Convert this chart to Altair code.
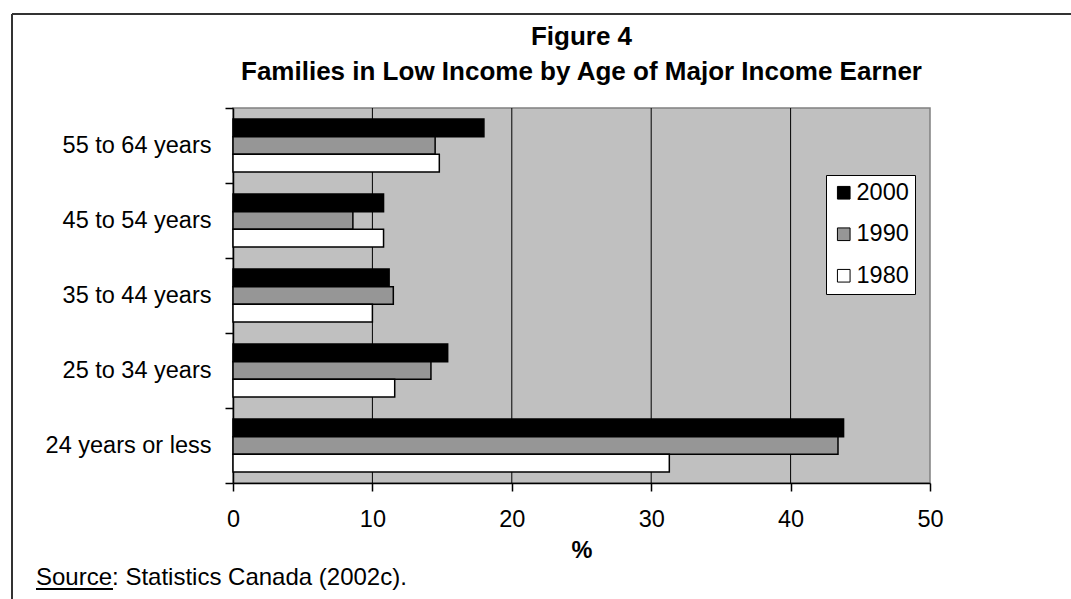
import altair as alt
import pandas as pd

# Share of families in low income (%), by age of major income earner
age_groups = ["55 to 64 years", "45 to 54 years", "35 to 44 years",
              "25 to 34 years", "24 years or less"]
years = ["2000", "1990", "1980"]
pct_2000 = [18.0, 10.8, 11.2, 15.4, 43.8]
pct_1990 = [14.5, 8.6, 11.5, 14.2, 43.4]
pct_1980 = [14.8, 10.8, 10.0, 11.6, 31.3]
year_colors = ["#000000", "#969696", "#ffffff"]
x_ticks = [0, 10, 20, 30, 40, 50]
grid_values = [10, 20, 30, 40]
title_lines = ["Figure 4", "Families in Low Income by Age of Major Income Earner"]
source_text = "Source:  Statistics Canada (2002c)."

rows = []
for year, series in zip(years, [pct_2000, pct_1990, pct_1980]):
    for age, v in zip(age_groups, series):
        rows.append({"age": age, "year": year, "pct": v})
df = pd.DataFrame(rows)

FONT = "Liberation Sans"
W, H = 697, 375
LEFT, TOP = 233, 108

x_enc = alt.X(
    "pct:Q",
    scale=alt.Scale(domain=[0, 50], nice=False, zero=True),
    axis=alt.Axis(values=x_ticks, title="%", grid=False, tickSize=8,
                  labelFlush=False, labelPadding=16, titlePadding=8,
                  titleFontWeight="bold", titleFontSize=23.5, titleFont=FONT,
                  domainColor="#000000", domainWidth=1.5),
)

bars = alt.Chart(df).mark_bar(stroke="black", strokeWidth=1.5).encode(
    x=x_enc,
    y=alt.Y("age:N", sort=age_groups,
            scale=alt.Scale(paddingInner=0, paddingOuter=0),
            axis=alt.Axis(title=None, tickBand="extent", tickSize=8,
                          labelPadding=14, domainColor="#000000",
                          domainWidth=1.5)),
    yOffset=alt.YOffset("year:N", sort=years,
                        scale=alt.Scale(paddingInner=0, paddingOuter=0.62)),
    fill=alt.Fill("year:N", sort=years,
                  scale=alt.Scale(domain=years, range=year_colors),
                  legend=alt.Legend(title=None, orient="none", legendX=593,
                                    legendY=67, direction="vertical",
                                    symbolType="square", symbolSize=160,
                                    symbolStrokeColor="black",
                                    symbolStrokeWidth=1, labelFontSize=23.5,
                                    labelFont=FONT, labelColor="black",
                                    labelOffset=1, rowPadding=16.5,
                                    strokeColor="black", fillColor="white",
                                    padding=6)),
)

grid = alt.Chart(pd.DataFrame({"pct": grid_values})).mark_rule(
    color="black", strokeWidth=1
).encode(x=x_enc)

one_row = pd.DataFrame({"k": [0]})

# open frame: top and left edges
frame_top = alt.Chart(one_row).mark_rule(color="#333333", strokeWidth=2).encode(
    x=alt.value(12 - LEFT), x2=alt.value(1071 - LEFT), y=alt.value(14 - TOP))
frame_left = alt.Chart(one_row).mark_rule(color="#333333", strokeWidth=2).encode(
    x=alt.value(12 - LEFT), y=alt.value(14 - TOP), y2=alt.value(599 - TOP))

# two-line bold heading, centred over the plot
heading_style = dict(align="center", baseline="alphabetic", font=FONT,
                     fontSize=26, fontWeight="bold", color="black")
heading1 = alt.Chart(pd.DataFrame({"t": [title_lines[0]]})).mark_text(**heading_style).encode(
    x=alt.value(W / 2), y=alt.value(45 - TOP), text="t:N")
heading2 = alt.Chart(pd.DataFrame({"t": [title_lines[1]]})).mark_text(**heading_style).encode(
    x=alt.value(W / 2), y=alt.value(80 - TOP), text="t:N")

source = alt.Chart(pd.DataFrame({"t": [source_text]})).mark_text(
    align="left", baseline="alphabetic", font=FONT, fontSize=24, color="black"
).encode(x=alt.value(36 - LEFT), y=alt.value(585 - TOP), text="t:N")
source_underline = alt.Chart(one_row).mark_rule(color="black", strokeWidth=2).encode(
    x=alt.value(36 - LEFT), x2=alt.value(113 - LEFT), y=alt.value(589 - TOP))

chart = alt.layer(
    grid, bars, frame_top, frame_left, heading1, heading2, source, source_underline
).properties(
    width=W, height=H,
    autosize=alt.AutoSizeParams(type="none"),
    padding={"left": LEFT, "top": TOP, "right": 1071 - LEFT - W,
             "bottom": 599 - TOP - H},
    background="white",
).configure_view(
    fill="#C0C0C0", stroke="#808080", strokeWidth=1.5
).configure_axis(
    labelFont=FONT, labelFontSize=23.5, labelColor="black",
    tickColor="black", tickWidth=1.5,
)

chart.save("out.html", embed_options={"renderer": "svg", "actions": False})
